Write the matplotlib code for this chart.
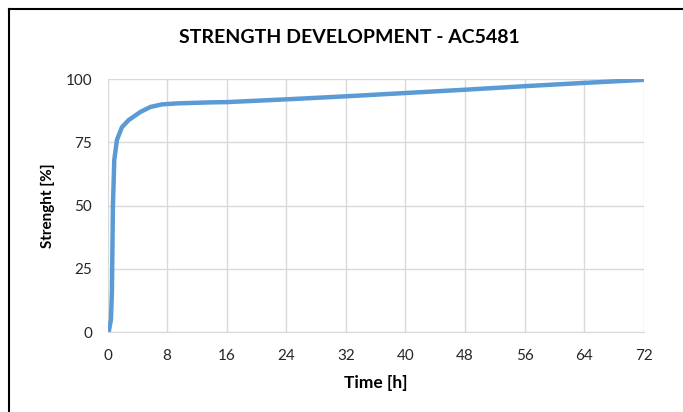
import matplotlib.pyplot as plt
from matplotlib.lines import Line2D

# data
time_h = [0.0, 0.15, 0.45, 0.58, 0.72, 0.9, 1.26, 1.93, 2.83, 4.4, 5.75, 7.3, 9.3,
          13.8, 16, 24, 32, 40, 48, 56, 64, 72]
strength = [0.0, 0.0, 4.9, 15.4, 50.0, 68.0, 76.0, 81.0, 83.8, 87.0, 89.0, 90.0, 90.4,
            90.8, 90.9, 92.0, 93.2, 94.5, 95.8, 97.2, 98.5, 99.7]
x_ticks = [0, 8, 16, 24, 32, 40, 48, 56, 64, 72]
y_ticks = [0, 25, 50, 75, 100]

plt.rcParams['font.family'] = ['Lato', 'DejaVu Sans']

fig = plt.figure(figsize=(6.83, 4.12), dpi=100)
ax = fig.add_axes([0.1575, 0.194, 0.785, 0.614])

ax.plot(time_h, strength, color='#5B9BD5', linewidth=3.2, solid_capstyle='round')

ax.set_xlim(0, 72)
ax.set_ylim(0, 100)
ax.set_xticks(x_ticks)
ax.set_yticks(y_ticks)
ax.grid(True, color='#D9D9D9', linewidth=1)
ax.set_axisbelow(True)
ax.tick_params(length=0, labelsize=11, colors='#262626')
ax.tick_params(axis='x', pad=12)
ax.tick_params(axis='y', pad=11)
for s in ['top', 'right', 'left']:
    ax.spines[s].set_visible(False)
ax.spines['bottom'].set_color('#D9D9D9')

ax.set_xlabel('Time [h]', fontsize=12.5, fontweight='bold', labelpad=9)
ax.set_ylabel('Strenght [%]', fontsize=11, fontweight='bold', labelpad=8)
fig.text(0.511, 0.91, 'STRENGTH DEVELOPMENT - AC5481', ha='center', va='center',
         fontsize=14, fontweight='bold')

# outer frame (left and top only)
fig.add_artist(Line2D([8.5 / 683, 8.5 / 683], [0, 1 - 9 / 412], transform=fig.transFigure,
                      color='black', linewidth=1.5))
fig.add_artist(Line2D([8.5 / 683, 1], [1 - 9 / 412, 1 - 9 / 412], transform=fig.transFigure,
                      color='black', linewidth=1.5))

fig.savefig('out.png', dpi=100)
